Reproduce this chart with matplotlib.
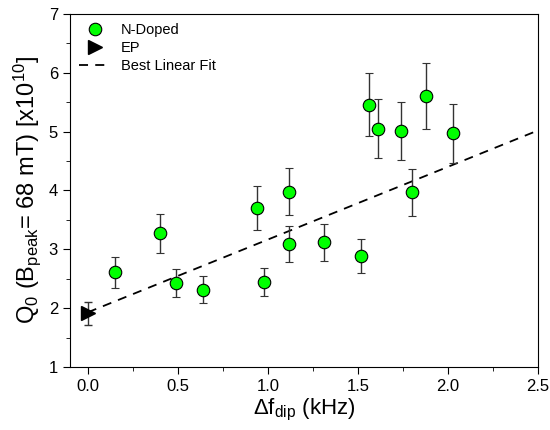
import numpy as np
import matplotlib.pyplot as plt
from matplotlib.lines import Line2D
from matplotlib.ticker import MultipleLocator

plt.rcParams['font.family'] = ['Liberation Sans', 'DejaVu Sans']
plt.rcParams['mathtext.fontset'] = 'custom'
plt.rcParams['mathtext.rm'] = 'Liberation Sans'
plt.rcParams['mathtext.it'] = 'Liberation Sans'
plt.rcParams['mathtext.default'] = 'regular'

# N-doped cavities: frequency dip (kHz) vs Q0 at 68 mT (x1e10)
df_nd = [0.15, 0.40, 0.49, 0.64, 0.94, 0.98, 1.12, 1.12, 1.31, 1.52,
         1.56, 1.61, 1.74, 1.80, 1.88, 2.03]
q0_nd = [2.61, 3.27, 2.43, 2.31, 3.70, 2.45, 3.98, 3.09, 3.12, 2.88,
         5.46, 5.05, 5.01, 3.97, 5.61, 4.97]
err_nd = [0.26, 0.33, 0.24, 0.23, 0.37, 0.24, 0.40, 0.31, 0.31, 0.29,
          0.54, 0.50, 0.50, 0.40, 0.56, 0.50]

# EP reference cavity
df_ep = [0.0]
q0_ep = [1.91]
err_ep = [0.19]

# linear fit
fit_slope = 1.236
fit_intercept = 1.93

fig = plt.figure(figsize=(5.5, 4.3), dpi=100)
ax = fig.add_axes([0.127, 0.1465, 0.851, 0.821])

ax.errorbar(df_nd, q0_nd, yerr=err_nd, fmt='o', color='#00ff00', mec='black', mew=0.8,
            ms=9, ecolor='#333333', elinewidth=1.0, capsize=3, capthick=1.0, zorder=3)
ax.errorbar(df_ep, q0_ep, yerr=err_ep, fmt='>', color='black', ms=10,
            ecolor='#333333', elinewidth=1.0, capsize=3, capthick=1.0, zorder=3)

xf = np.array([0.0, 2.5])
ax.plot(xf, fit_slope * xf + fit_intercept, color='black', lw=1.3,
        dashes=(5, 4), zorder=2)

ax.set_xlim(-0.1, 2.5)
ax.set_ylim(1, 7)
ax.xaxis.set_major_locator(MultipleLocator(0.5))
ax.xaxis.set_minor_locator(MultipleLocator(0.25))
ax.yaxis.set_major_locator(MultipleLocator(1))
ax.yaxis.set_minor_locator(MultipleLocator(0.5))
ax.tick_params(which='both', direction='out', top=False, right=False, labelsize=12)
ax.tick_params(which='major', length=5)
ax.tick_params(which='minor', length=3)
ax.xaxis.set_major_formatter(plt.FormatStrFormatter('%.1f'))

ax.set_xlabel(r'$\Delta$f$_{dip}$ (kHz)', fontsize=16, labelpad=2)
ax.set_ylabel(r'Q$_0$ (B$_{peak}$= 68 mT) [x10$^{10}$]', fontsize=17, labelpad=4)

# legend with plain markers (no error bars)
handles = [
    Line2D([], [], ls='none', marker='o', color='#00ff00', mec='black', mew=0.8, ms=9),
    Line2D([], [], ls='none', marker='>', color='black', ms=10),
    Line2D([], [], color='black', lw=1.3, dashes=(5, 4)),
]
labels = ['N-Doped', 'EP', 'Best Linear Fit']
ax.legend(handles, labels, loc='upper left', frameon=False, fontsize=10.5,
          handlelength=2.2, handletextpad=0.7, borderaxespad=0.2, labelspacing=0.3)

fig.savefig('out.png', dpi=100)
